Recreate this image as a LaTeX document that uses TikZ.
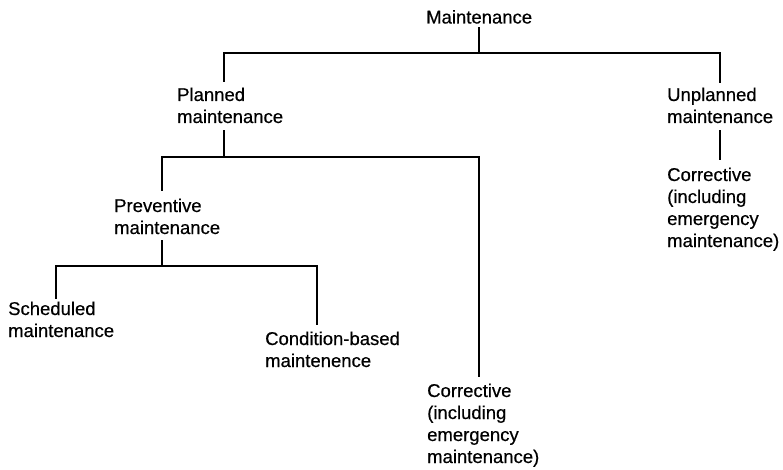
\documentclass[tikz,border=0pt]{standalone}
\usepackage{fontspec}
\setmainfont{Liberation Sans}
\newfontfamily\labelfont[FakeBold=0.5]{Liberation Sans}
\begin{document}
\begin{tikzpicture}[x=1pt,y=-1pt,
  label/.style={inner sep=0pt, anchor=base west, align=left,
    font=\labelfont\fontsize{18.5pt}{22pt}\selectfont},
  link/.style={line width=1.5pt}]
\useasboundingbox (0,0) rectangle (783,470);

% category labels, placed at the baseline of their last line
\node[label] (maint)     at (426,23.5) {Maintenance};
\node[label] (planned)   at (177,123)  {Planned\\maintenance};
\node[label] (unplanned) at (667,123)  {Unplanned\\maintenance};
\node[label] (corrR)     at (667,247)  {Corrective\\(including\\emergency\\maintenance)};
\node[label] (prev)      at (114,234)  {Preventive\\maintenance};
\node[label] (sched)     at (8,337)    {Scheduled\\maintenance};
\node[label] (cond)      at (265,367)  {Condition-based\\maintenence};
\node[label] (corrM)     at (427,463)  {Corrective\\(including\\emergency\\maintenance)};

% levels of the horizontal branch lines
\coordinate (bus1) at (0,53);
\coordinate (bus2) at (0,157);
\coordinate (bus3) at (0,266);

% connector ends at the labels
\coordinate (maint-out)     at ([xshift=53pt,yshift=-3.5pt]maint.south west);
\coordinate (planned-in)    at ([xshift=47pt,yshift=5.8pt]planned.north west);
\coordinate (planned-out)   at ([xshift=47pt,yshift=-7pt]planned.south west);
\coordinate (unplanned-in)  at ([xshift=53pt,yshift=4.8pt]unplanned.north west);
\coordinate (unplanned-out) at ([xshift=53pt,yshift=-7pt]unplanned.south west);
\coordinate (corrR-in)      at ([xshift=53pt,yshift=7.7pt]corrR.north west);
\coordinate (prev-in)       at ([xshift=48pt,yshift=7.7pt]prev.north west);
\coordinate (prev-out)      at ([xshift=48pt,yshift=-6pt]prev.south west);
\coordinate (sched-in)      at ([xshift=48pt,yshift=2.7pt]sched.north west);
\coordinate (cond-in)       at ([xshift=52pt,yshift=6.7pt]cond.north west);
\coordinate (corrM-in)      at ([xshift=52pt,yshift=6.7pt]corrM.north west);

% Maintenance -> planned / unplanned
\draw[link] (maint-out) -- (maint-out |- bus1);
\draw[link] (planned-in) |- (bus1 -| unplanned-in) -- (unplanned-in);

% Unplanned -> corrective
\draw[link] (unplanned-out) -- (corrR-in);

% Planned -> preventive / corrective
\draw[link] (planned-out) -- (planned-out |- bus2);
\draw[link] (prev-in) |- (bus2 -| corrM-in) -- (corrM-in);

% Preventive -> scheduled / condition-based
\draw[link] (prev-out) -- (prev-out |- bus3);
\draw[link] (sched-in) |- (bus3 -| cond-in) -- (cond-in);
\end{tikzpicture}
\end{document}
